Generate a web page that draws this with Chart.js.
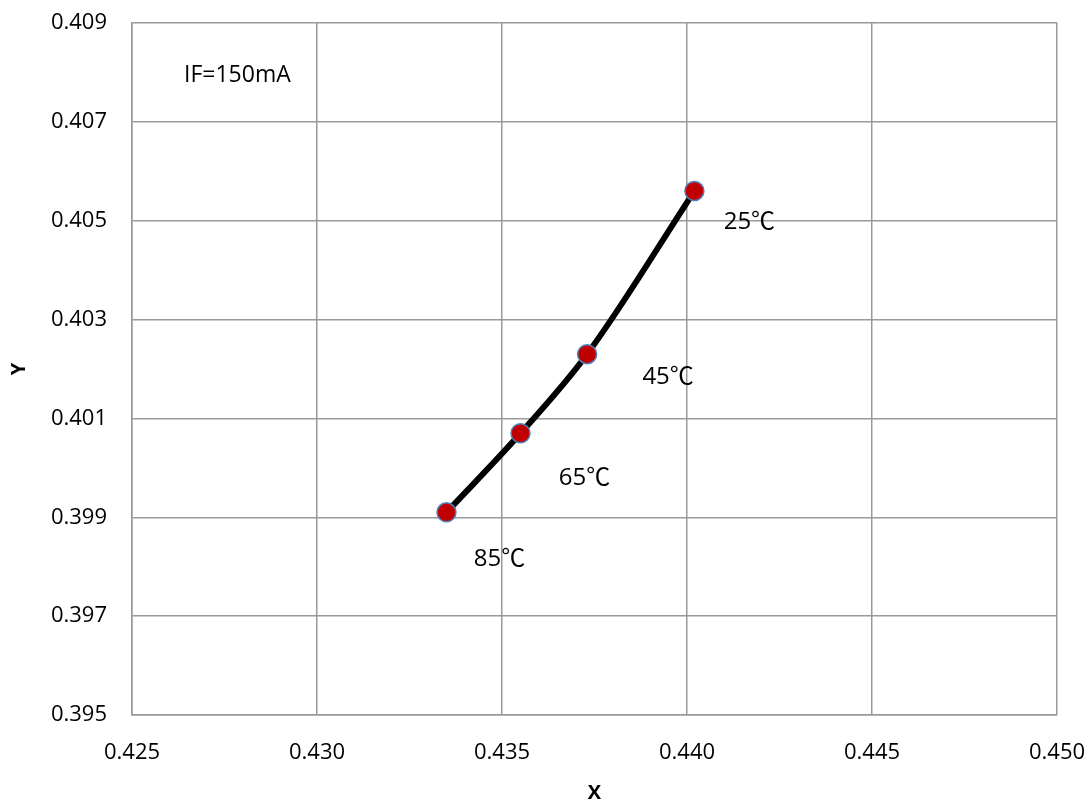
<!DOCTYPE html>
<html>
<head>
<meta charset="utf-8">
<script src="https://cdn.jsdelivr.net/npm/chart.js@4/dist/chart.umd.min.js"></script>
<style>
html,body{margin:0;padding:0;background:#fff;}
#wrap{width:1088px;height:803px;}
</style>
</head>
<body>
<div id="wrap"><canvas id="c" width="1088" height="803"></canvas></div>
<script>
const xValues = [0.4402, 0.4373, 0.4355, 0.4335];
const yValues = [0.4056, 0.4023, 0.4007, 0.3991];
const pointLabels = ['25℃', '45℃', '65℃', '85℃'];
const labelOffsets = [[55, 31], [81, 23], [64, 45], [53, 47]];
const noteText = 'IF=150mA';
const xTicks = [0.425, 0.430, 0.435, 0.440, 0.445, 0.450];
const yTicks = [0.395, 0.397, 0.399, 0.401, 0.403, 0.405, 0.407, 0.409];

const pts = xValues.map((x, i) => ({x: x, y: yValues[i]}));
const FONT = '"Open Sans", "Liberation Sans", sans-serif';

const annot = {
  id: 'annot',
  afterDatasetsDraw(chart) {
    const ctx = chart.ctx;
    const xs = chart.scales.x, ys = chart.scales.y;
    ctx.save();
    ctx.fillStyle = '#000';
    ctx.textAlign = 'center';
    ctx.textBaseline = 'middle';
    ctx.font = '24px "Open Sans", "Noto Sans CJK SC", sans-serif';
    pts.forEach((p, i) => {
      const px = xs.getPixelForValue(p.x) + labelOffsets[i][0];
      const py = ys.getPixelForValue(p.y) + labelOffsets[i][1];
      ctx.fillText(pointLabels[i], px, py);
    });
    ctx.font = '23px ' + FONT;
    ctx.textAlign = 'left';
    ctx.fillText(noteText, chart.chartArea.left + 52, chart.chartArea.top + 52);
    ctx.restore();
  }
};

new Chart(document.getElementById('c'), {
  type: 'scatter',
  data: {
    datasets: [{
      data: pts,
      showLine: true,
      borderColor: '#000',
      borderWidth: 6,
      cubicInterpolationMode: 'monotone',
      pointRadius: 9.5,
      pointBackgroundColor: '#C00000',
      pointBorderColor: '#4F81BD',
      pointBorderWidth: 1.5,
      pointHoverRadius: 9.5
    }]
  },
  options: {
    responsive: false,
    animation: false,
    layout: {padding: {left: 0, right: 31, top: 23, bottom: 0}},
    plugins: {legend: {display: false}, tooltip: {enabled: false}},
    scales: {
      x: {
        type: 'linear',
        min: 0.425, max: 0.450,
        afterBuildTicks(s) { s.ticks = xTicks.map(v => ({value: v})); },
        afterFit(s) { s.height = 88; s.paddingLeft = 0; s.paddingRight = 0; },
        ticks: {
          color: '#000', font: {size: 22, family: FONT}, padding: 25,
          callback: v => v.toFixed(3), maxRotation: 0, autoSkip: false
        },
        grid: {color: '#999', lineWidth: 1.5, drawTicks: false},
        border: {color: '#999', width: 1.5},
        title: {display: true, text: 'X', color: '#000', font: {size: 20, weight: 'bold', family: FONT}, padding: {top: 0, bottom: -2}}
      },
      y: {
        type: 'linear',
        min: 0.395, max: 0.409,
        afterBuildTicks(s) { s.ticks = yTicks.map(v => ({value: v})); },
        afterFit(s) { s.width = 132; s.paddingTop = 0; s.paddingBottom = 0; },
        ticks: {
          color: '#000', font: {size: 22, family: FONT}, padding: 25,
          callback: v => v.toFixed(3), autoSkip: false
        },
        grid: {color: '#999', lineWidth: 1.5, drawTicks: false},
        border: {color: '#999', width: 1.5},
        title: {display: true, text: 'Y', color: '#000', font: {size: 20, weight: 'bold', family: FONT}, padding: {top: 7, bottom: 0}}
      }
    }
  },
  plugins: [annot]
});
</script>
</body>
</html>
